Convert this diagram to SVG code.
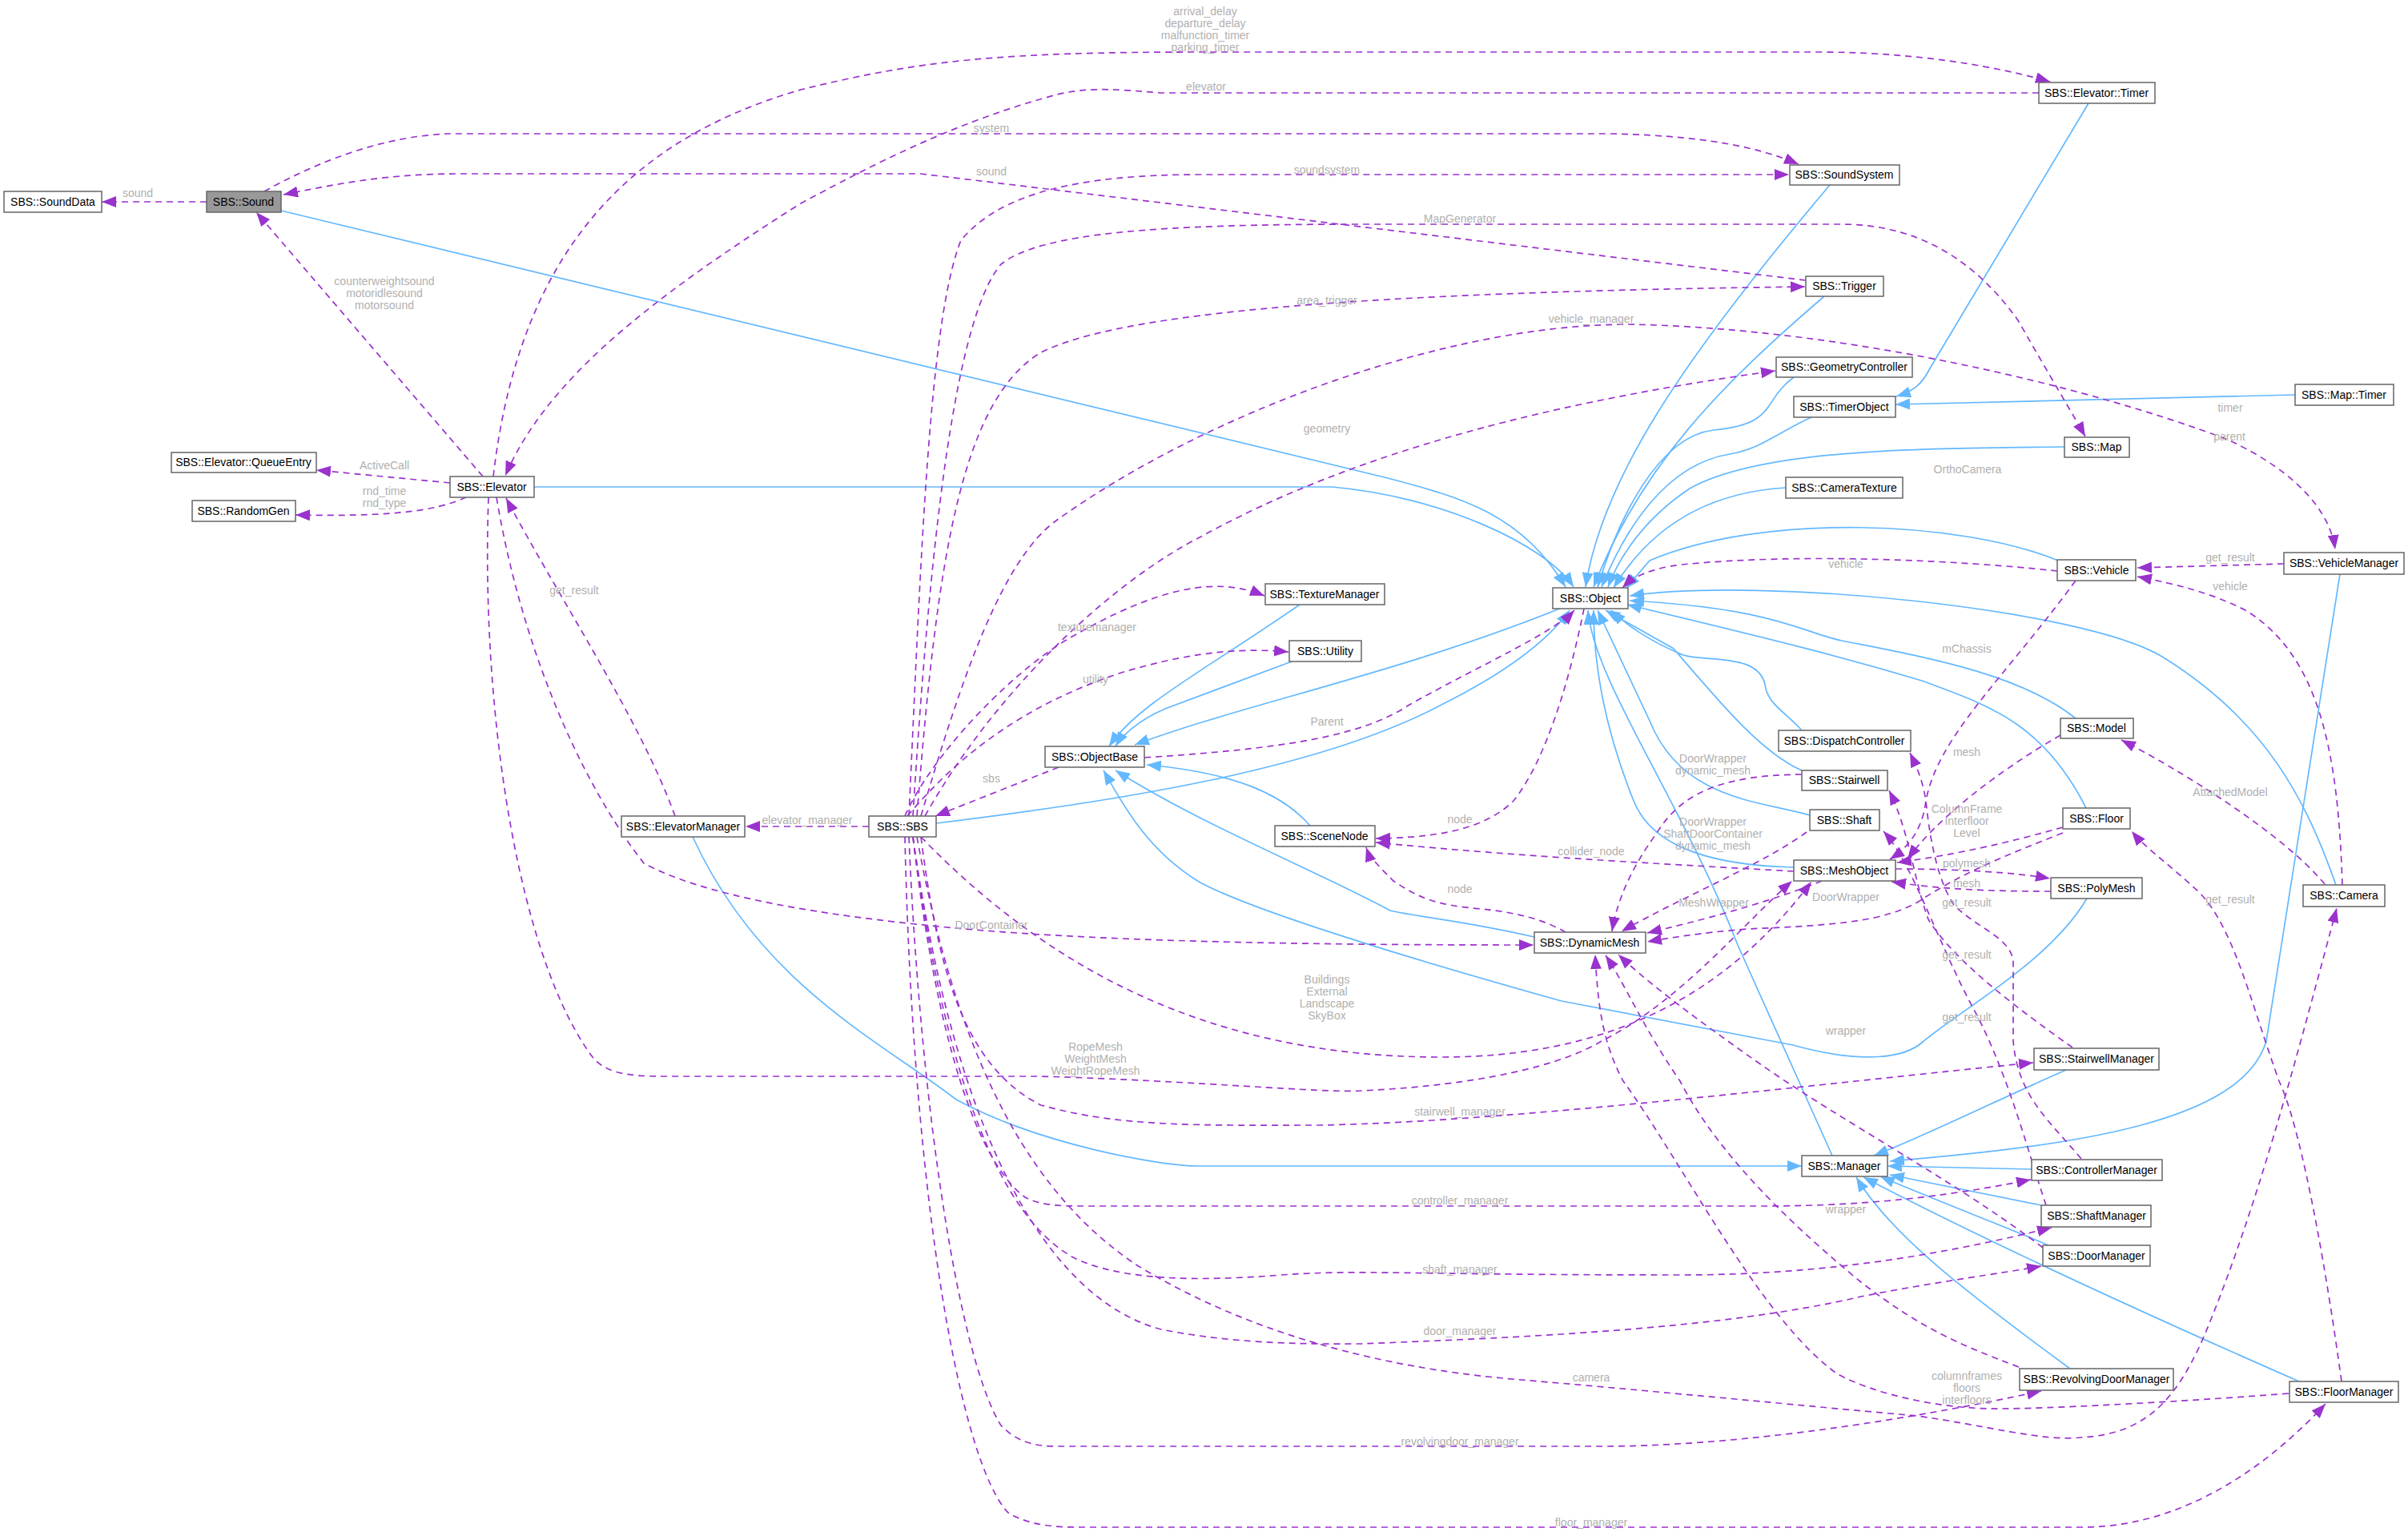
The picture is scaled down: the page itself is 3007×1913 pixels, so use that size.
<svg xmlns="http://www.w3.org/2000/svg" width="3007" height="1913" viewBox="0 0 3007 1913">
<style>
.n rect{fill:#fff;stroke:#666;stroke-width:1.5}
.n text{font-family:"Liberation Sans",Arial,sans-serif;font-size:14px;fill:#000;text-anchor:middle}
.b{fill:none;stroke:#63b8ff;stroke-width:1.7;marker-end:url(#ab)}
.p{fill:none;stroke:#9a32cd;stroke-width:1.7;stroke-dasharray:8,6;marker-end:url(#ap)}
.l{font-family:"Liberation Sans",Arial,sans-serif;font-size:14px;fill:#b0b0b0;text-anchor:middle}
</style>
<defs>
<marker id="ab" markerWidth="20" markerHeight="14" refX="18" refY="7" orient="auto" markerUnits="userSpaceOnUse"><path d="M0,0 L18,7 L0,14 Z" fill="#63b8ff"/></marker>
<marker id="ap" markerWidth="20" markerHeight="14" refX="18" refY="7" orient="auto" markerUnits="userSpaceOnUse"><path d="M0,0 L18,7 L0,14 Z" fill="#9a32cd"/></marker>
</defs>
<rect width="3007" height="1913" fill="#fff"/>
<g id="edges">
<path class="b" d="M351,263 L1733,597 C1820,620 1900,640 1955,733"/>
<path class="b" d="M667,608 L1663,608 C1800,620 1930,680 1965,733"/>
<path class="b" d="M2285,231 C2100,450 2000,600 1980,733"/>
<path class="b" d="M2278,370 C2150,480 2050,580 1990,733"/>
<path class="b" d="M2240,471 C2200,500 2220,530 2140,537 C2070,545 2020,650 1995,733"/>
<path class="b" d="M2262,521 C2220,540 2200,560 2160,567 C2080,580 2030,660 2000,733"/>
<path class="b" d="M2578,558 C2400,560 2200,560 2110,610 C2050,650 2020,700 2008,733"/>
<path class="b" d="M2230,609 C2130,615 2060,660 2015,734"/>
<path class="b" d="M2570,700 C2450,650 2200,640 2060,700 L2030,735"/>
<path class="b" d="M2917,1105 C2880,1000 2830,900 2700,820 C2600,760 2200,720 2035,744"/>
<path class="b" d="M2592,897 C2520,840 2400,820 2300,800 C2250,790 2220,760 2035,750"/>
<path class="b" d="M2605,1009 C2550,900 2480,880 2400,850 C2300,820 2220,800 2032,755"/>
<path class="b" d="M2250,912 C2230,890 2210,880 2205,860 C2200,810 2120,830 2095,815 C2060,800 2030,780 2012,762"/>
<path class="b" d="M2250,962 C2200,940 2150,880 2090,810 L2005,762"/>
<path class="b" d="M2260,1018 C2200,1000 2100,1000 2060,900 L1995,762"/>
<path class="b" d="M2240,1083 C2120,1080 2060,1050 2040,1000 C2000,900 1990,820 1990,762"/>
<path class="b" d="M2288,1443 L2170,1180 C2100,1000 1990,850 1983,762"/>
<path class="b" d="M2922,717 L2830,1300 C2800,1400 2600,1430 2360,1450"/>
<path class="b" d="M1169,1028 C1400,1000 1650,960 1800,880 C1900,830 1940,790 1960,762"/>
<path class="b" d="M1950,759 C1750,840 1550,880 1417,930"/>
<path class="b" d="M1623,755 C1500,840 1420,880 1385,932"/>
<path class="b" d="M1613,826 L1455,885 C1420,900 1400,920 1393,932"/>
<path class="b" d="M1636,1031 C1600,990 1540,965 1432,955"/>
<path class="b" d="M1916,1170 C1830,1150 1770,1145 1736,1137 C1650,1090 1500,1030 1393,962"/>
<path class="b" d="M2606,1122 C2560,1200 2450,1260 2401,1301 C2380,1320 2330,1330 2239,1305 L1950,1250 C1700,1180 1550,1130 1497,1101 C1430,1060 1400,1000 1378,962"/>
<path class="b" d="M865,1045 C950,1230 1100,1300 1194,1373 C1300,1430 1450,1456 1497,1456 L2250,1456"/>
<path class="b" d="M2580,1336 C2480,1380 2400,1420 2340,1443"/>
<path class="b" d="M2537,1460 L2357,1456"/>
<path class="b" d="M2549,1505 L2360,1467"/>
<path class="b" d="M2558,1555 C2500,1530 2420,1500 2348,1469"/>
<path class="b" d="M2585,1709 C2450,1610 2360,1540 2318,1470"/>
<path class="b" d="M2871,1725 C2700,1650 2500,1560 2327,1470"/>
<path class="b" d="M2608,129 L2410,460 C2400,480 2390,488 2368,495"/>
<path class="b" d="M2866,493 L2367,505"/>

<path class="p" d="M258,252 L127,252"/>
<path class="p" d="M603,595 L320,265"/>
<path class="p" d="M562,603 L395,587"/>
<path class="p" d="M582,621 C540,640 480,645 369,643"/>
<path class="p" d="M616,595 C650,300 800,170 1000,112 C1150,75 1250,65 1500,65 L2270,65 C2400,65 2500,85 2560,102"/>
<path class="p" d="M2546,116 L1450,116 C1400,112 1360,108 1320,118 C1200,150 1100,200 1000,254 C800,380 680,480 631,594"/>
<path class="p" d="M330,239 C400,200 480,170 560,167 L2013,167 C2150,170 2210,190 2246,205"/>
<path class="p" d="M2255,350 L1150,217 L574,217 C480,217 420,230 354,243"/>
<path class="p" d="M1135,1019 C1150,700 1160,400 1200,300 C1250,240 1350,218 1500,218 L2234,218"/>
<path class="p" d="M1140,1019 C1160,700 1190,400 1250,330 C1300,290 1450,280 1700,280 L2300,280 C2400,280 2470,330 2520,400 C2560,470 2590,520 2604,545"/>
<path class="p" d="M1145,1019 C1170,700 1200,500 1300,440 C1400,390 1700,365 2254,358"/>
<path class="p" d="M1150,1019 C1200,850 1250,700 1319,650 C1500,520 1800,405 2034,405 C2300,410 2600,480 2782,549 C2870,590 2910,640 2916,686"/>
<path class="p" d="M1155,1019 C1250,850 1400,720 1500,670 C1700,560 1950,500 2217,463"/>
<path class="p" d="M1130,1019 C1160,950 1250,850 1330,800 C1450,730 1520,720 1579,744"/>
<path class="p" d="M1133,1019 C1200,940 1280,880 1400,840 C1500,810 1560,810 1609,814"/>
<path class="p" d="M1322,958 L1168,1019"/>
<path class="p" d="M1429,946 C1600,935 1700,920 1760,880 C1850,830 1940,790 1966,762"/>
<path class="p" d="M1978,760 C1960,850 1930,950 1890,1000 C1850,1040 1780,1046 1718,1047"/>
<path class="p" d="M1955,1164 C1930,1150 1900,1140 1850,1135 C1790,1130 1770,1120 1740,1100 C1720,1080 1710,1070 1706,1058"/>
<path class="p" d="M2240,1088 C2100,1080 1900,1070 1718,1052"/>
<path class="p" d="M1085,1032 L931,1032"/>
<path class="p" d="M843,1019 C800,900 700,750 632,622"/>
<path class="p" d="M620,621 C650,800 720,970 804,1078 C900,1130 1100,1150 1194,1159 C1400,1178 1700,1180 1915,1180"/>
<path class="p" d="M1150,1045 C1300,1200 1500,1320 1800,1320 C2000,1320 2150,1250 2262,1101"/>
<path class="p" d="M610,621 C600,900 650,1200 740,1320 C760,1345 800,1344 843,1344 L1300,1344 C1500,1350 1650,1365 1700,1362 C1850,1355 1950,1330 2000,1300 C2100,1250 2180,1150 2238,1100"/>
<path class="p" d="M1150,1045 C1170,1200 1200,1330 1300,1380 C1400,1408 1500,1405 1650,1405 C1900,1400 2300,1350 2539,1327"/>
<path class="p" d="M1140,1045 C1170,1300 1220,1450 1280,1495 C1300,1506 1330,1506 1350,1506 L2200,1506 C2350,1506 2450,1490 2536,1473"/>
<path class="p" d="M1140,1045 C1180,1350 1250,1520 1340,1570 C1400,1600 1500,1600 1600,1592 C1700,1585 1750,1592 2100,1592 C2300,1592 2450,1560 2562,1533"/>
<path class="p" d="M1140,1045 C1190,1400 1300,1620 1450,1660 C1550,1680 1650,1678 1700,1678 C1900,1670 2150,1660 2324,1619 C2420,1600 2500,1590 2549,1581"/>
<path class="p" d="M1145,1045 C1200,1350 1300,1500 1420,1580 C1600,1690 1800,1715 1900,1723 C2100,1740 2300,1760 2394,1768 C2480,1780 2550,1800 2599,1795 C2680,1790 2720,1750 2760,1650 C2820,1500 2860,1350 2918,1134"/>
<path class="p" d="M1135,1045 C1150,1400 1200,1700 1250,1780 C1270,1800 1290,1806 1320,1806 L2000,1806 C2150,1806 2350,1780 2549,1737"/>
<path class="p" d="M1130,1045 C1140,1500 1200,1830 1260,1890 C1290,1906 1320,1907 1350,1907 L2600,1907 C2750,1907 2860,1800 2904,1753"/>
<path class="p" d="M2858,1740 C2700,1752 2550,1759 2500,1759 C2420,1760 2340,1740 2295,1716 C2200,1650 2100,1450 2027,1350 C2000,1300 1995,1250 1992,1192"/>
<path class="p" d="M2924,1725 C2900,1550 2870,1400 2846,1350 C2810,1250 2790,1160 2747,1115 C2710,1080 2680,1060 2662,1038"/>
<path class="p" d="M2903,1104 C2850,1040 2720,960 2649,924"/>
<path class="p" d="M2925,1105 C2920,950 2900,820 2804,762 C2760,740 2720,730 2669,720"/>
<path class="p" d="M2852,704 L2669,709"/>
<path class="p" d="M2569,713 C2450,700 2250,690 2100,705 C2060,710 2040,720 2026,734"/>
<path class="p" d="M2592,725 C2500,850 2420,920 2405,1000 C2400,1040 2380,1060 2360,1073"/>
<path class="p" d="M2573,918 C2500,960 2420,1020 2382,1073"/>
<path class="p" d="M2576,1033 C2480,1060 2420,1070 2369,1077"/>
<path class="p" d="M2576,1040 C2500,1070 2450,1090 2394,1127 C2350,1150 2300,1155 2182,1160 C2120,1165 2080,1172 2057,1176"/>
<path class="p" d="M2275,1100 C2200,1130 2120,1150 2057,1165"/>
<path class="p" d="M2367,1085 C2450,1085 2520,1090 2560,1097"/>
<path class="p" d="M2561,1113 C2480,1113 2420,1110 2362,1101"/>
<path class="p" d="M2250,967 C2150,968 2100,990 2069,1040 C2040,1080 2020,1120 2013,1163"/>
<path class="p" d="M2256,1039 C2200,1080 2100,1120 2025,1163"/>
<path class="p" d="M2588,1308 C2520,1260 2440,1200 2408,1148 C2390,1100 2385,1040 2359,987"/>
<path class="p" d="M2599,1447 C2560,1400 2520,1370 2514,1300 L2514,1200 C2510,1170 2470,1160 2440,1130 C2420,1100 2410,1050 2405,1000 C2400,970 2392,955 2385,940"/>
<path class="p" d="M2555,1505 C2530,1430 2510,1350 2470,1270 C2420,1180 2390,1080 2352,1038"/>
<path class="p" d="M2551,1558 C2450,1480 2300,1400 2200,1330 C2100,1260 2050,1220 2021,1192"/>
<path class="p" d="M2521,1707 C2450,1680 2400,1660 2324,1601 C2250,1540 2150,1450 2098,1350 C2050,1280 2030,1230 2005,1193"/>
</g>
<g id="labels">
<text class="l" x="172" y="246">sound</text>
<text class="l" x="480" y="356">counterweightsound</text>
<text class="l" x="480" y="371">motoridlesound</text>
<text class="l" x="480" y="386">motorsound</text>
<text class="l" x="480" y="586">ActiveCall</text>
<text class="l" x="480" y="618">rnd_time</text>
<text class="l" x="480" y="633">rnd_type</text>
<text class="l" x="1505" y="19">arrival_delay</text>
<text class="l" x="1505" y="34">departure_delay</text>
<text class="l" x="1505" y="49">malfunction_timer</text>
<text class="l" x="1505" y="64">parking_timer</text>
<text class="l" x="1506" y="113">elevator</text>
<text class="l" x="1238" y="165">system</text>
<text class="l" x="1238" y="219">sound</text>
<text class="l" x="1657" y="217">soundsystem</text>
<text class="l" x="1823" y="278">MapGenerator</text>
<text class="l" x="1657" y="380">area_trigger</text>
<text class="l" x="1987" y="403">vehicle_manager</text>
<text class="l" x="1657" y="540">geometry</text>
<text class="l" x="2785" y="514">timer</text>
<text class="l" x="2784" y="550">parent</text>
<text class="l" x="2457" y="591">OrthoCamera</text>
<text class="l" x="2785" y="701">get_result</text>
<text class="l" x="2785" y="737">vehicle</text>
<text class="l" x="2305" y="709">vehicle</text>
<text class="l" x="2456" y="815">mChassis</text>
<text class="l" x="2456" y="944">mesh</text>
<text class="l" x="2456" y="1015">ColumnFrame</text>
<text class="l" x="2456" y="1030">Interfloor</text>
<text class="l" x="2456" y="1045">Level</text>
<text class="l" x="2456" y="1083">polymesh</text>
<text class="l" x="2456" y="1108">mesh</text>
<text class="l" x="2456" y="1132">get_result</text>
<text class="l" x="2456" y="1197">get_result</text>
<text class="l" x="2456" y="1275">get_result</text>
<text class="l" x="2785" y="1128">get_result</text>
<text class="l" x="2785" y="994">AttachedModel</text>
<text class="l" x="2139" y="952">DoorWrapper</text>
<text class="l" x="2139" y="967">dynamic_mesh</text>
<text class="l" x="2139" y="1031">DoorWrapper</text>
<text class="l" x="2139" y="1046">ShaftDoorContainer</text>
<text class="l" x="2139" y="1061">dynamic_mesh</text>
<text class="l" x="1987" y="1068">collider_node</text>
<text class="l" x="2140" y="1132">MeshWrapper</text>
<text class="l" x="2305" y="1125">DoorWrapper</text>
<text class="l" x="1823" y="1028">node</text>
<text class="l" x="1823" y="1115">node</text>
<text class="l" x="1370" y="788">texturemanager</text>
<text class="l" x="1368" y="853">utility</text>
<text class="l" x="1657" y="906">Parent</text>
<text class="l" x="1238" y="977">sbs</text>
<text class="l" x="1008" y="1029">elevator_manager</text>
<text class="l" x="717" y="742">get_result</text>
<text class="l" x="1238" y="1160">DoorContainer</text>
<text class="l" x="1657" y="1228">Buildings</text>
<text class="l" x="1657" y="1243">External</text>
<text class="l" x="1657" y="1258">Landscape</text>
<text class="l" x="1657" y="1273">SkyBox</text>
<text class="l" x="1368" y="1312">RopeMesh</text>
<text class="l" x="1368" y="1327">WeightMesh</text>
<text class="l" x="1368" y="1342">WeightRopeMesh</text>
<text class="l" x="2305" y="1292">wrapper</text>
<text class="l" x="2305" y="1515">wrapper</text>
<text class="l" x="1823" y="1393">stairwell_manager</text>
<text class="l" x="1823" y="1504">controller_manager</text>
<text class="l" x="1823" y="1590">shaft_manager</text>
<text class="l" x="1823" y="1667">door_manager</text>
<text class="l" x="1987" y="1725">camera</text>
<text class="l" x="1823" y="1805">revolvingdoor_manager</text>
<text class="l" x="1987" y="1906">floor_manager</text>
<text class="l" x="2456" y="1723">columnframes</text>
<text class="l" x="2456" y="1738">floors</text>
<text class="l" x="2456" y="1753">interfloors</text>
</g>
<g id="SoundData" class="n"><rect x="5" y="239" width="122" height="26"/><text x="66" y="257">SBS::SoundData</text></g>
<g id="Sound" class="n"><rect x="258" y="239" width="93" height="26" style="fill:#999"/><text x="304" y="257">SBS::Sound</text></g>
<g id="QueueEntry" class="n"><rect x="214" y="565" width="181" height="25"/><text x="304" y="582">SBS::Elevator::QueueEntry</text></g>
<g id="RandomGen" class="n"><rect x="240" y="625" width="129" height="26"/><text x="304" y="643">SBS::RandomGen</text></g>
<g id="Elevator" class="n"><rect x="562" y="595" width="105" height="26"/><text x="614" y="613">SBS::Elevator</text></g>
<g id="ElevatorManager" class="n"><rect x="776" y="1019" width="154" height="26"/><text x="853" y="1037">SBS::ElevatorManager</text></g>
<g id="SBS" class="n"><rect x="1085" y="1019" width="84" height="26"/><text x="1127" y="1037">SBS::SBS</text></g>
<g id="TextureManager" class="n"><rect x="1580" y="729" width="149" height="26"/><text x="1654" y="747">SBS::TextureManager</text></g>
<g id="Utility" class="n"><rect x="1610" y="800" width="90" height="26"/><text x="1655" y="818">SBS::Utility</text></g>
<g id="ObjectBase" class="n"><rect x="1305" y="932" width="124" height="26"/><text x="1367" y="950">SBS::ObjectBase</text></g>
<g id="SceneNode" class="n"><rect x="1592" y="1031" width="125" height="26"/><text x="1654" y="1049">SBS::SceneNode</text></g>
<g id="Object" class="n"><rect x="1939" y="734" width="94" height="26"/><text x="1986" y="752">SBS::Object</text></g>
<g id="DynamicMesh" class="n"><rect x="1916" y="1164" width="139" height="26"/><text x="1985" y="1182">SBS::DynamicMesh</text></g>
<g id="ElevatorTimer" class="n"><rect x="2546" y="103" width="145" height="26"/><text x="2618" y="121">SBS::Elevator::Timer</text></g>
<g id="SoundSystem" class="n"><rect x="2235" y="206" width="137" height="25"/><text x="2303" y="223">SBS::SoundSystem</text></g>
<g id="Trigger" class="n"><rect x="2255" y="345" width="97" height="25"/><text x="2303" y="362">SBS::Trigger</text></g>
<g id="GeometryController" class="n"><rect x="2218" y="446" width="170" height="25"/><text x="2303" y="463">SBS::GeometryController</text></g>
<g id="TimerObject" class="n"><rect x="2240" y="495" width="127" height="26"/><text x="2303" y="513">SBS::TimerObject</text></g>
<g id="MapTimer" class="n"><rect x="2866" y="480" width="123" height="26"/><text x="2927" y="498">SBS::Map::Timer</text></g>
<g id="Map" class="n"><rect x="2578" y="546" width="81" height="25"/><text x="2618" y="563">SBS::Map</text></g>
<g id="CameraTexture" class="n"><rect x="2230" y="596" width="146" height="26"/><text x="2303" y="614">SBS::CameraTexture</text></g>
<g id="Vehicle" class="n"><rect x="2569" y="699" width="98" height="26"/><text x="2618" y="717">SBS::Vehicle</text></g>
<g id="VehicleManager" class="n"><rect x="2852" y="690" width="150" height="27"/><text x="2927" y="708">SBS::VehicleManager</text></g>
<g id="Model" class="n"><rect x="2573" y="897" width="91" height="25"/><text x="2618" y="914">SBS::Model</text></g>
<g id="DispatchController" class="n"><rect x="2221" y="912" width="165" height="26"/><text x="2303" y="930">SBS::DispatchController</text></g>
<g id="Stairwell" class="n"><rect x="2250" y="962" width="107" height="25"/><text x="2303" y="979">SBS::Stairwell</text></g>
<g id="Shaft" class="n"><rect x="2260" y="1011" width="87" height="26"/><text x="2303" y="1029">SBS::Shaft</text></g>
<g id="Floor" class="n"><rect x="2576" y="1009" width="84" height="26"/><text x="2618" y="1027">SBS::Floor</text></g>
<g id="MeshObject" class="n"><rect x="2240" y="1074" width="127" height="26"/><text x="2303" y="1092">SBS::MeshObject</text></g>
<g id="PolyMesh" class="n"><rect x="2561" y="1096" width="114" height="26"/><text x="2618" y="1114">SBS::PolyMesh</text></g>
<g id="Camera" class="n"><rect x="2876" y="1105" width="102" height="27"/><text x="2927" y="1123">SBS::Camera</text></g>
<g id="StairwellManager" class="n"><rect x="2540" y="1309" width="156" height="27"/><text x="2618" y="1327">SBS::StairwellManager</text></g>
<g id="Manager" class="n"><rect x="2250" y="1443" width="107" height="26"/><text x="2303" y="1461">SBS::Manager</text></g>
<g id="ControllerManager" class="n"><rect x="2537" y="1448" width="163" height="26"/><text x="2618" y="1466">SBS::ControllerManager</text></g>
<g id="ShaftManager" class="n"><rect x="2549" y="1505" width="137" height="27"/><text x="2618" y="1523">SBS::ShaftManager</text></g>
<g id="DoorManager" class="n"><rect x="2551" y="1555" width="134" height="26"/><text x="2618" y="1573">SBS::DoorManager</text></g>
<g id="RevolvingDoorManager" class="n"><rect x="2522" y="1709" width="192" height="27"/><text x="2618" y="1727">SBS::RevolvingDoorManager</text></g>
<g id="FloorManager" class="n"><rect x="2859" y="1725" width="136" height="26"/><text x="2927" y="1743">SBS::FloorManager</text></g>
</svg>
